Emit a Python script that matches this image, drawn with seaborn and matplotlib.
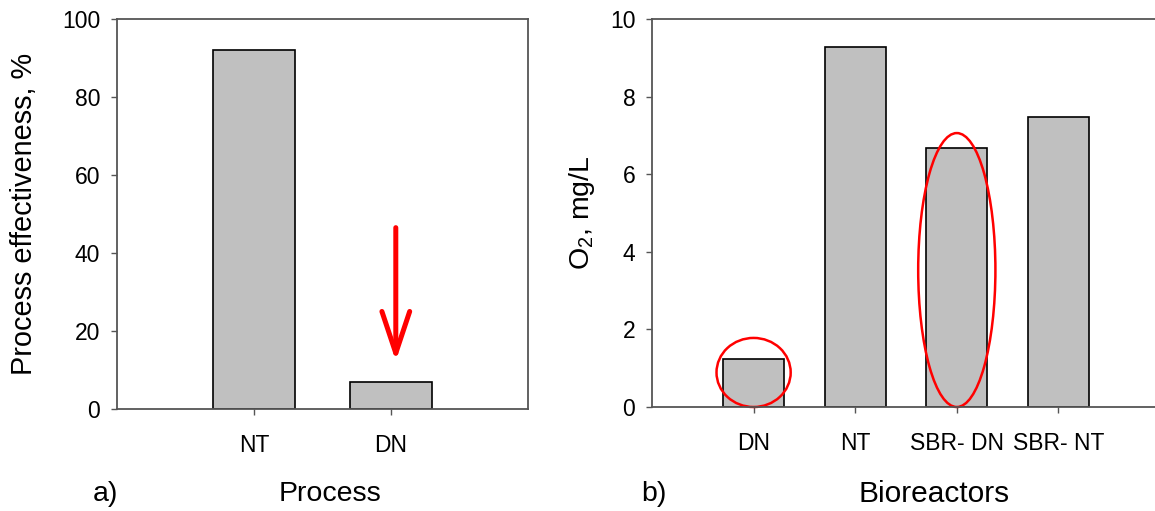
import numpy as np
import pandas as pd
import matplotlib
matplotlib.use("Agg")
import matplotlib.pyplot as plt
import seaborn as sns
from matplotlib.patches import Ellipse

# data
process = ["NT", "DN"]
effectiveness = [92, 7]

reactors = ["DN", "NT", "SBR- DN", "SBR- NT"]
oxygen = [1.24, 9.27, 6.67, 7.47]

sns.set_style("ticks")
plt.rcParams["font.family"] = ["Liberation Sans", "DejaVu Sans"]
plt.rcParams["mathtext.fontset"] = "custom"
plt.rcParams["mathtext.rm"] = "Liberation Sans"
plt.rcParams["mathtext.it"] = "Liberation Sans:italic"
plt.rcParams["text.color"] = "black"
plt.rcParams["axes.labelcolor"] = "black"

W, H = 1155, 511
fig = plt.figure(figsize=(W / 100, H / 100), dpi=100)
ax1 = fig.add_axes([117 / W, 1 - 409 / H, 411 / W, 390 / H])
ax2 = fig.add_axes([652 / W, 1 - 407 / H, 508 / W, 388 / H])

df1 = pd.DataFrame({"Process": process, "eff": effectiveness})
df2 = pd.DataFrame({"Bioreactors": reactors, "o2": oxygen})

bar_kw = dict(color="#C0C0C0", edgecolor="black", linewidth=1.2,
              width=0.6, saturation=1)
sns.barplot(data=df1, x="Process", y="eff", ax=ax1, **bar_kw)
sns.barplot(data=df2, x="Bioreactors", y="o2", ax=ax2, **bar_kw)

spine_col = "#555555"
for ax in (ax1, ax2):
    for s in ax.spines.values():
        s.set_color(spine_col)
        s.set_linewidth(1.3)
    ax.tick_params(axis="both", labelsize=16.5, length=4, width=1,
                   color=spine_col, labelcolor="black")
    ax.tick_params(axis="x", pad=14)
    ax.tick_params(axis="y", pad=8)
    ax.set_facecolor("white")

ax1.set_xlim(-1, 2)
ax1.set_ylim(0, 100)
ax1.set_yticks([0, 20, 40, 60, 80, 100])
ax2.set_xlim(-1, 4)
ax2.set_ylim(0, 10)
ax2.set_yticks([0, 2, 4, 6, 8, 10])
ax2.spines["right"].set_visible(False)

ax1.set_xlabel("Process", fontsize=20.5)
ax1.set_ylabel("Process effectiveness, %", fontsize=20.8)
ax2.set_xlabel("Bioreactors", fontsize=21.5)
ax2.set_ylabel("O$_2$, mg/L", fontsize=20.5)

ax1.xaxis.set_label_coords(0.518, -0.218)
ax1.xaxis.label.set_va("center")
ax1.yaxis.set_label_coords(-0.226, 0.5)
ax1.yaxis.label.set_va("center")
ax2.xaxis.set_label_coords(0.555, -0.224)
ax2.xaxis.label.set_va("center")
ax2.yaxis.set_label_coords(-0.137, 0.5)
ax2.yaxis.label.set_va("center")

fig.text(105 / W, 1 - 494 / H, "a)", fontsize=20.5, ha="center", va="center")
fig.text(654 / W, 1 - 494 / H, "b)", fontsize=20.5, ha="center", va="center")

# red annotations
ax1.annotate("", xy=(1.035, 12.3), xytext=(1.035, 46.5),
             arrowprops=dict(arrowstyle="->,head_length=3.0,head_width=1.0",
                             color="red", lw=3.6, shrinkA=0, shrinkB=0,
                             mutation_scale=10))
ax2.add_patch(Ellipse((0, 0.89), 0.73, 1.78, fill=False,
                      edgecolor="red", linewidth=1.8, clip_on=False))
ax2.add_patch(Ellipse((2, 3.53), 0.76, 7.06, fill=False,
                      edgecolor="red", linewidth=1.8, clip_on=False))

fig.savefig("out.png", dpi=100, facecolor="white")
